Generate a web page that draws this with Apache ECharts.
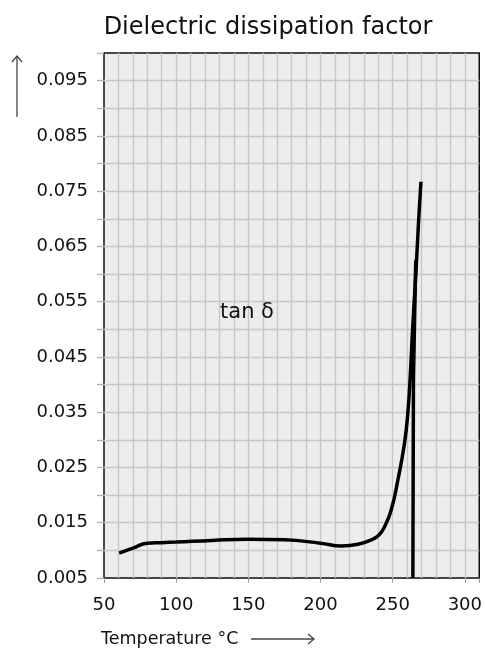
<!DOCTYPE html>
<html>
<head>
<meta charset="utf-8">
<script src="https://cdn.jsdelivr.net/npm/echarts@6/dist/echarts.min.js"></script>
<style>
html,body{margin:0;padding:0;background:#fff;}
#chart{width:485px;height:648px;}
</style>
</head>
<body>
<div id="chart"></div>
<script>
// Data
var temperature = [60.5, 70, 80, 90, 100, 125, 150, 175, 200, 214.6, 226, 235.2, 240.5, 244.4, 249, 253.6, 258.2, 260.5, 262.3, 263.9, 266.2, 268, 269.6];
var tanDelta = [0.0095, 0.0104, 0.0113, 0.0114, 0.0115, 0.0118, 0.0120, 0.0119, 0.0113, 0.0108, 0.0111, 0.0119, 0.0128, 0.0143, 0.0173, 0.0227, 0.0294, 0.0348, 0.0420, 0.0504, 0.0607, 0.0697, 0.0767];
var vertTemp = [264.0, 264.4, 266.0];
var vertVal = [0.005, 0.041, 0.0625];
var xTickLabels = [50, 100, 150, 200, 250, 300];
var yTickLabels = [0.005, 0.015, 0.025, 0.035, 0.045, 0.055, 0.065, 0.075, 0.085, 0.095];
var titleText = 'Dielectric dissipation factor';
var xAxisName = 'Temperature °C';
var curveLabel = 'tan δ';

var FONT = 'DejaVu Sans';
var curve = temperature.map(function (t, i) { return [t, tanDelta[i]]; });
var vert = vertTemp.map(function (t, i) { return [t, vertVal[i]]; });

var chart = echarts.init(document.getElementById('chart'), null, {renderer: 'canvas'});
var option = {
  animation: false,
  backgroundColor: '#ffffff',
  title: {
    text: titleText,
    left: 268, top: 16, textAlign: 'center', padding: 0,
    textStyle: {fontFamily: FONT, fontSize: 24, fontWeight: 'normal', color: '#111'}
  },
  grid: {
    left: 104, right: 3, top: 53, bottom: 70,
    show: true, backgroundColor: '#ececec', borderColor: '#111', borderWidth: 1.5
  },
  xAxis: [{
    type: 'value', min: 50, max: 310, interval: 10,
    axisLine: {show: false},
    axisTick: {show: false},
    axisLabel: {
      margin: 18, fontFamily: FONT, fontSize: 18, color: '#111',
      formatter: function (v) {
        var r = Math.round(v);
        return xTickLabels.indexOf(r) >= 0 ? String(r) : '';
      }
    },
    splitLine: {show: true, showMinLine: false, showMaxLine: false, lineStyle: {color: '#c6c6c6', width: 1.3}}
  }, {
    type: 'value', min: 50, max: 310, interval: 50, position: 'bottom',
    axisLine: {show: false},
    axisTick: {show: true, length: 5, lineStyle: {color: '#999', width: 1}},
    axisLabel: {show: false},
    splitLine: {show: false}
  }],
  yAxis: {
    type: 'value', min: 0.005, max: 0.1, interval: 0.005,
    axisLine: {show: false},
    axisTick: {show: true, length: 7, lineStyle: {color: '#b0b0b0', width: 1.3}},
    axisLabel: {
      margin: 16, fontFamily: FONT, fontSize: 18, color: '#111',
      formatter: function (v) {
        var s = v.toFixed(3);
        for (var i = 0; i < yTickLabels.length; i++) {
          if (Math.abs(yTickLabels[i] - v) < 1e-6) return s;
        }
        return '';
      }
    },
    splitLine: {show: true, showMinLine: false, showMaxLine: false, lineStyle: {color: '#c6c6c6', width: 1.3}}
  },
  series: [{
    type: 'line', xAxisIndex: 0, data: curve, smooth: 0.5, symbol: 'none',
    lineStyle: {color: '#000', width: 3.5}, z: 5
  }, {
    type: 'line', xAxisIndex: 0, data: vert, smooth: false, symbol: 'none',
    lineStyle: {color: '#000', width: 3.5}, z: 5
  }],
  graphic: [
    // y arrow
    {type: 'line', shape: {x1: 17, y1: 117, x2: 17, y2: 56}, style: {stroke: '#444', lineWidth: 1.3}},
    {type: 'polyline', shape: {points: [[12, 62], [17, 56], [22, 62]]}, style: {stroke: '#444', lineWidth: 1.3, fill: null}},
    // x axis name with arrow
    {type: 'text', left: 101, top: 630, style: {text: xAxisName, fontFamily: FONT, fontSize: 17.5, fill: '#111'}},
    {type: 'line', shape: {x1: 251, y1: 639, x2: 314, y2: 639}, style: {stroke: '#444', lineWidth: 1.3}},
    {type: 'polyline', shape: {points: [[308, 634], [314, 639], [308, 644]]}, style: {stroke: '#444', lineWidth: 1.3, fill: null}},
    // curve label
    {type: 'text', x: 247, y: 313, style: {text: curveLabel, fontFamily: FONT, fontSize: 21, fill: '#111', align: 'center', verticalAlign: 'middle'}, z: 10}
  ]
};
chart.setOption(option);
</script>
</body>
</html>
